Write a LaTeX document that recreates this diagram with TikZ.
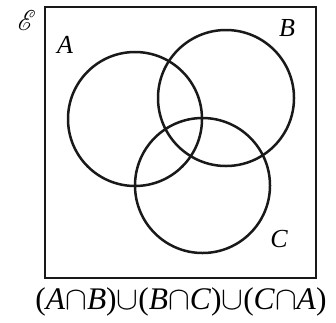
\documentclass[tikz,border=0pt]{standalone}
\usepackage{graphicx}
\usepackage{fontspec}
\usepackage{mathrsfs}
\setmainfont{Liberation Serif}
\begin{document}
\begin{tikzpicture}[x=1pt,y=-1pt,
  setline/.style={line width=2.5pt, draw=black!90},
  lab/.style={font=\fontsize{26}{28}\selectfont\itshape, inner sep=0pt}]
\useasboundingbox (0,0) rectangle (336,322);
\draw[setline, line width=2.8pt] (45,7) rectangle (316,278);
\node[setline, circle, minimum size=134pt, inner sep=0pt] (A) at (135,119) {};
\node[setline, circle, minimum size=136pt, inner sep=0pt] (B) at (226,98) {};
\node[setline, circle, minimum size=135pt, inner sep=0pt] (C) at (202.5,185.5) {};
\node[inner sep=0pt] (U) at (27,20) {\resizebox{18pt}{20pt}{$\mathscr{E}$}};
\node[lab] (la) at (65,45) {A};
\node[lab] (lb) at (287,28) {B};
\node[lab] (lc) at (279,239) {C};
\node[inner sep=0pt] (expr) at (181,302)
  {\scalebox{1.31}{\fontsize{24}{28}\selectfont(\textit{A}$\cap$\textit{B})$\cup$(\textit{B}$\cap$\textit{C})$\cup$(\textit{C}$\cap$\textit{A})}};
\end{tikzpicture}
\end{document}
